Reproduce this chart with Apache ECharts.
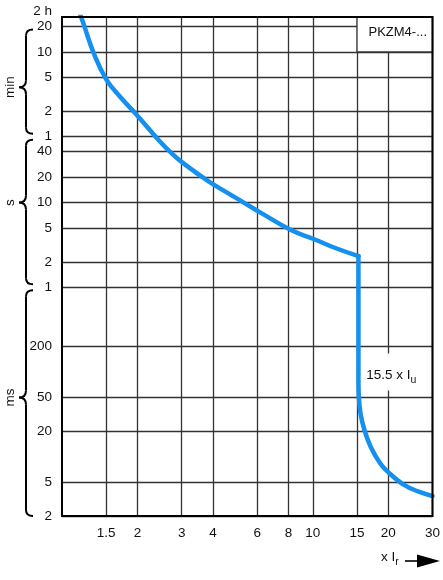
<!DOCTYPE html>
<html><head><meta charset="utf-8">
<script src="https://cdn.jsdelivr.net/npm/echarts@6/dist/echarts.min.js"></script>
<style>html,body{margin:0;padding:0;background:#fff}#c{width:443px;height:580px}</style>
</head><body><div id="c"></div>
<script>
// ---- data (x = multiple of Ir, y = trip time in seconds) ----
const xMin = 1, xMax = 30;
const yMin = 0.002, yMax = 1550;
const xTickValues = [1.5, 2, 3, 4, 6, 8, 10, 15, 20, 30];
const xTickLabels = ['1.5', '2', '3', '4', '6', '8', '10', '15', '20', '30'];
const yTickSeconds = [1200, 600, 300, 120, 60, 40, 20, 10, 5, 2, 1, 0.2, 0.05, 0.02, 0.005, 0.002];
const yTickLabels = ['20', '10', '5', '2', '1', '40', '20', '10', '5', '2', '1', '200', '50', '20', '5', '2'];
const yTopLabel = '2 h';
// overload (thermal) part of the curve
const overloadMultiple = [1.165, 1.223, 1.339, 1.501, 1.708, 1.967, 2.421, 2.772, 3.061, 3.802, 4.553, 5.307, 6.186, 8.185, 10.07, 12.29, 15.2];
const overloadSeconds  = [1875, 1247, 578, 285, 176, 112, 55.3, 36.8, 28.8, 18.2, 13.1, 10.0, 7.62, 4.74, 3.72, 2.91, 2.34];
// short-circuit (instantaneous) part of the curve
const shortMultiple = [15.2, 15.2, 15.25, 15.49, 16.06, 17.0, 18.55, 19.87, 23.1, 26.46, 30];
const shortSeconds  = [2.34, 0.0805, 0.0521, 0.0326, 0.0207, 0.01316, 0.00838, 0.00667, 0.00465, 0.00387, 0.00344];
const unitNames = ['min', 's', 'ms'];
const unitFrom = [1200, 60, 1];
const unitTo = [60, 1, 0.002];
const unitTip = [230, 10, 0.05];
const boxLabel = 'PKZM4-...';
const boxFrom = [15, 600], boxTo = [30, yMax];
const noteMultiple = 20.55, noteSeconds = 0.1;

// ---- build ----
const L = Math.log10;
const FONT = "'Liberation Sans Narrow', 'Liberation Sans', Arial, sans-serif";
const FS = 13.5;
const key = v => v.toFixed(6);
const xLabelMap = {}; xTickValues.forEach((v, i) => xLabelMap[key(L(v))] = xTickLabels[i]);
const yLabelMap = {}; yTickSeconds.forEach((v, i) => yLabelMap[key(L(v))] = yTickLabels[i]);
yLabelMap[key(L(yMax))] = '{top|' + yTopLabel + '}';
const txt = (size) => ({fontSize: size, color: '#111', fontFamily: FONT});

const chart = echarts.init(document.getElementById('c'), null, {renderer: 'canvas'});
const gridLine = {show: true, lineStyle: {color: '#333', width: 1.3}};
const curveStyle = {color: '#1590ee', width: 4.5, join: 'round', cap: 'round'};
chart.setOption({
  animation: false,
  backgroundColor: '#fff',
  grid: {left: 62, right: 4, top: 17, bottom: 64, show: true, borderColor: '#000', borderWidth: 2, backgroundColor: 'transparent', z: 10},
  xAxis: {
    type: 'value', min: L(xMin), max: L(xMax),
    axisLine: {show: false},
    axisTick: {show: false, customValues: xTickValues.map(L)},
    axisLabel: Object.assign({customValues: xTickValues.map(L), formatter: v => xLabelMap[key(v)] || '', margin: 10}, txt(FS)),
    splitLine: gridLine
  },
  yAxis: {
    type: 'value', min: L(yMin), max: L(yMax),
    axisLine: {show: false},
    axisTick: {show: false, customValues: yTickSeconds.map(L)},
    axisLabel: Object.assign({customValues: yTickSeconds.map(L).concat([L(yMax)]), formatter: v => yLabelMap[key(v)] || '', margin: 10,
      rich: {top: Object.assign({padding: [0, 0, 12, 0]}, txt(FS))}}, txt(FS)),
    splitLine: gridLine
  },
  series: [{
    type: 'line',
    data: overloadMultiple.map((x, i) => [L(x), L(overloadSeconds[i])]),
    showSymbol: false, symbol: 'none', smooth: 0.45, clip: true,
    lineStyle: curveStyle, silent: true,
    markArea: {
      silent: true,
      itemStyle: {color: '#fff', borderColor: '#333', borderWidth: 1.3},
      label: {show: true, position: 'inside', offset: [3, -2], color: '#111', fontSize: 13, fontFamily: "'Liberation Sans', Arial, sans-serif"},
      data: [[{name: boxLabel, coord: [L(boxFrom[0]), L(boxFrom[1])]}, {coord: [L(boxTo[0]), L(boxTo[1])]}]]
    }
  }, {
    type: 'line',
    data: shortMultiple.map((x, i) => [L(x), L(shortSeconds[i])]),
    showSymbol: false, symbol: 'none', smooth: 0.4, clip: true,
    lineStyle: curveStyle, silent: true,
    markPoint: {
      silent: true,
      symbol: 'rect', symbolSize: [44, 37],
      itemStyle: {color: '#fff'},
      label: {show: true, position: 'inside', offset: [0, 3], formatter: '{a|15.5 x I}{s|u}',
        rich: {a: txt(FS), s: Object.assign({padding: [10, 0, 0, 0]}, txt(10.5))}},
      data: [{coord: [L(noteMultiple), L(noteSeconds)]}]
    }
  }]
});

// decorations: unit braces, unit names, x-axis name with arrow
const py = v => chart.convertToPixel({yAxisIndex: 0}, L(v));
const graphics = [];
const stroke = {stroke: '#000', lineWidth: 2, fill: null};
function brace(xe, xs, xt, y0, ym, y1) {
  const r = 6, k = 7;
  return [
    {type: 'bezierCurve', silent: true, shape: {x1: xe, y1: y0, cpx1: xs, cpy1: y0, x2: xs, y2: y0 + r}, style: stroke},
    {type: 'line', silent: true, shape: {x1: xs, y1: y0 + r, x2: xs, y2: ym - k}, style: stroke},
    {type: 'bezierCurve', silent: true, shape: {x1: xs, y1: ym - k, cpx1: xs, cpy1: ym, x2: xt, y2: ym}, style: stroke},
    {type: 'bezierCurve', silent: true, shape: {x1: xt, y1: ym, cpx1: xs, cpy1: ym, x2: xs, y2: ym + k}, style: stroke},
    {type: 'line', silent: true, shape: {x1: xs, y1: ym + k, x2: xs, y2: y1 - r}, style: stroke},
    {type: 'bezierCurve', silent: true, shape: {x1: xs, y1: y1 - r, cpx1: xs, cpy1: y1, x2: xe, y2: y1}, style: stroke}
  ];
}
unitNames.forEach((n, i) => {
  const y0 = py(unitFrom[i]) + 3;
  const y1 = py(unitTo[i]) - (unitTo[i] === yMin ? 0 : 3);
  const ym = py(unitTip[i]);
  brace(33, 26, 19, y0, ym, y1).forEach(g => graphics.push(g));
  graphics.push({type: 'text', silent: true, x: 10, y: ym, rotation: Math.PI / 2,
    style: {text: n, fontSize: FS, fontFamily: FONT, fill: '#111', align: 'center', verticalAlign: 'middle'}});
});
graphics.push({type: 'text', silent: true, x: 381, y: 557,
  style: {text: '{a|x I}{s|r}', fontSize: FS, fontFamily: FONT, fill: '#111', align: 'left', verticalAlign: 'middle',
    rich: {a: {fontSize: FS, fontFamily: FONT, fill: '#111'},
           s: {fontSize: 10.5, fontFamily: FONT, fill: '#111', padding: [10, 0, 0, 0]}}}});
graphics.push({type: 'line', silent: true, shape: {x1: 405, y1: 561, x2: 420, y2: 561}, style: {stroke: '#000', lineWidth: 1.6}});
graphics.push({type: 'polygon', silent: true, shape: {points: [[417, 554.5], [440, 561], [417, 567.5]]}, style: {fill: '#000'}});
chart.setOption({graphic: graphics});
</script></body></html>
